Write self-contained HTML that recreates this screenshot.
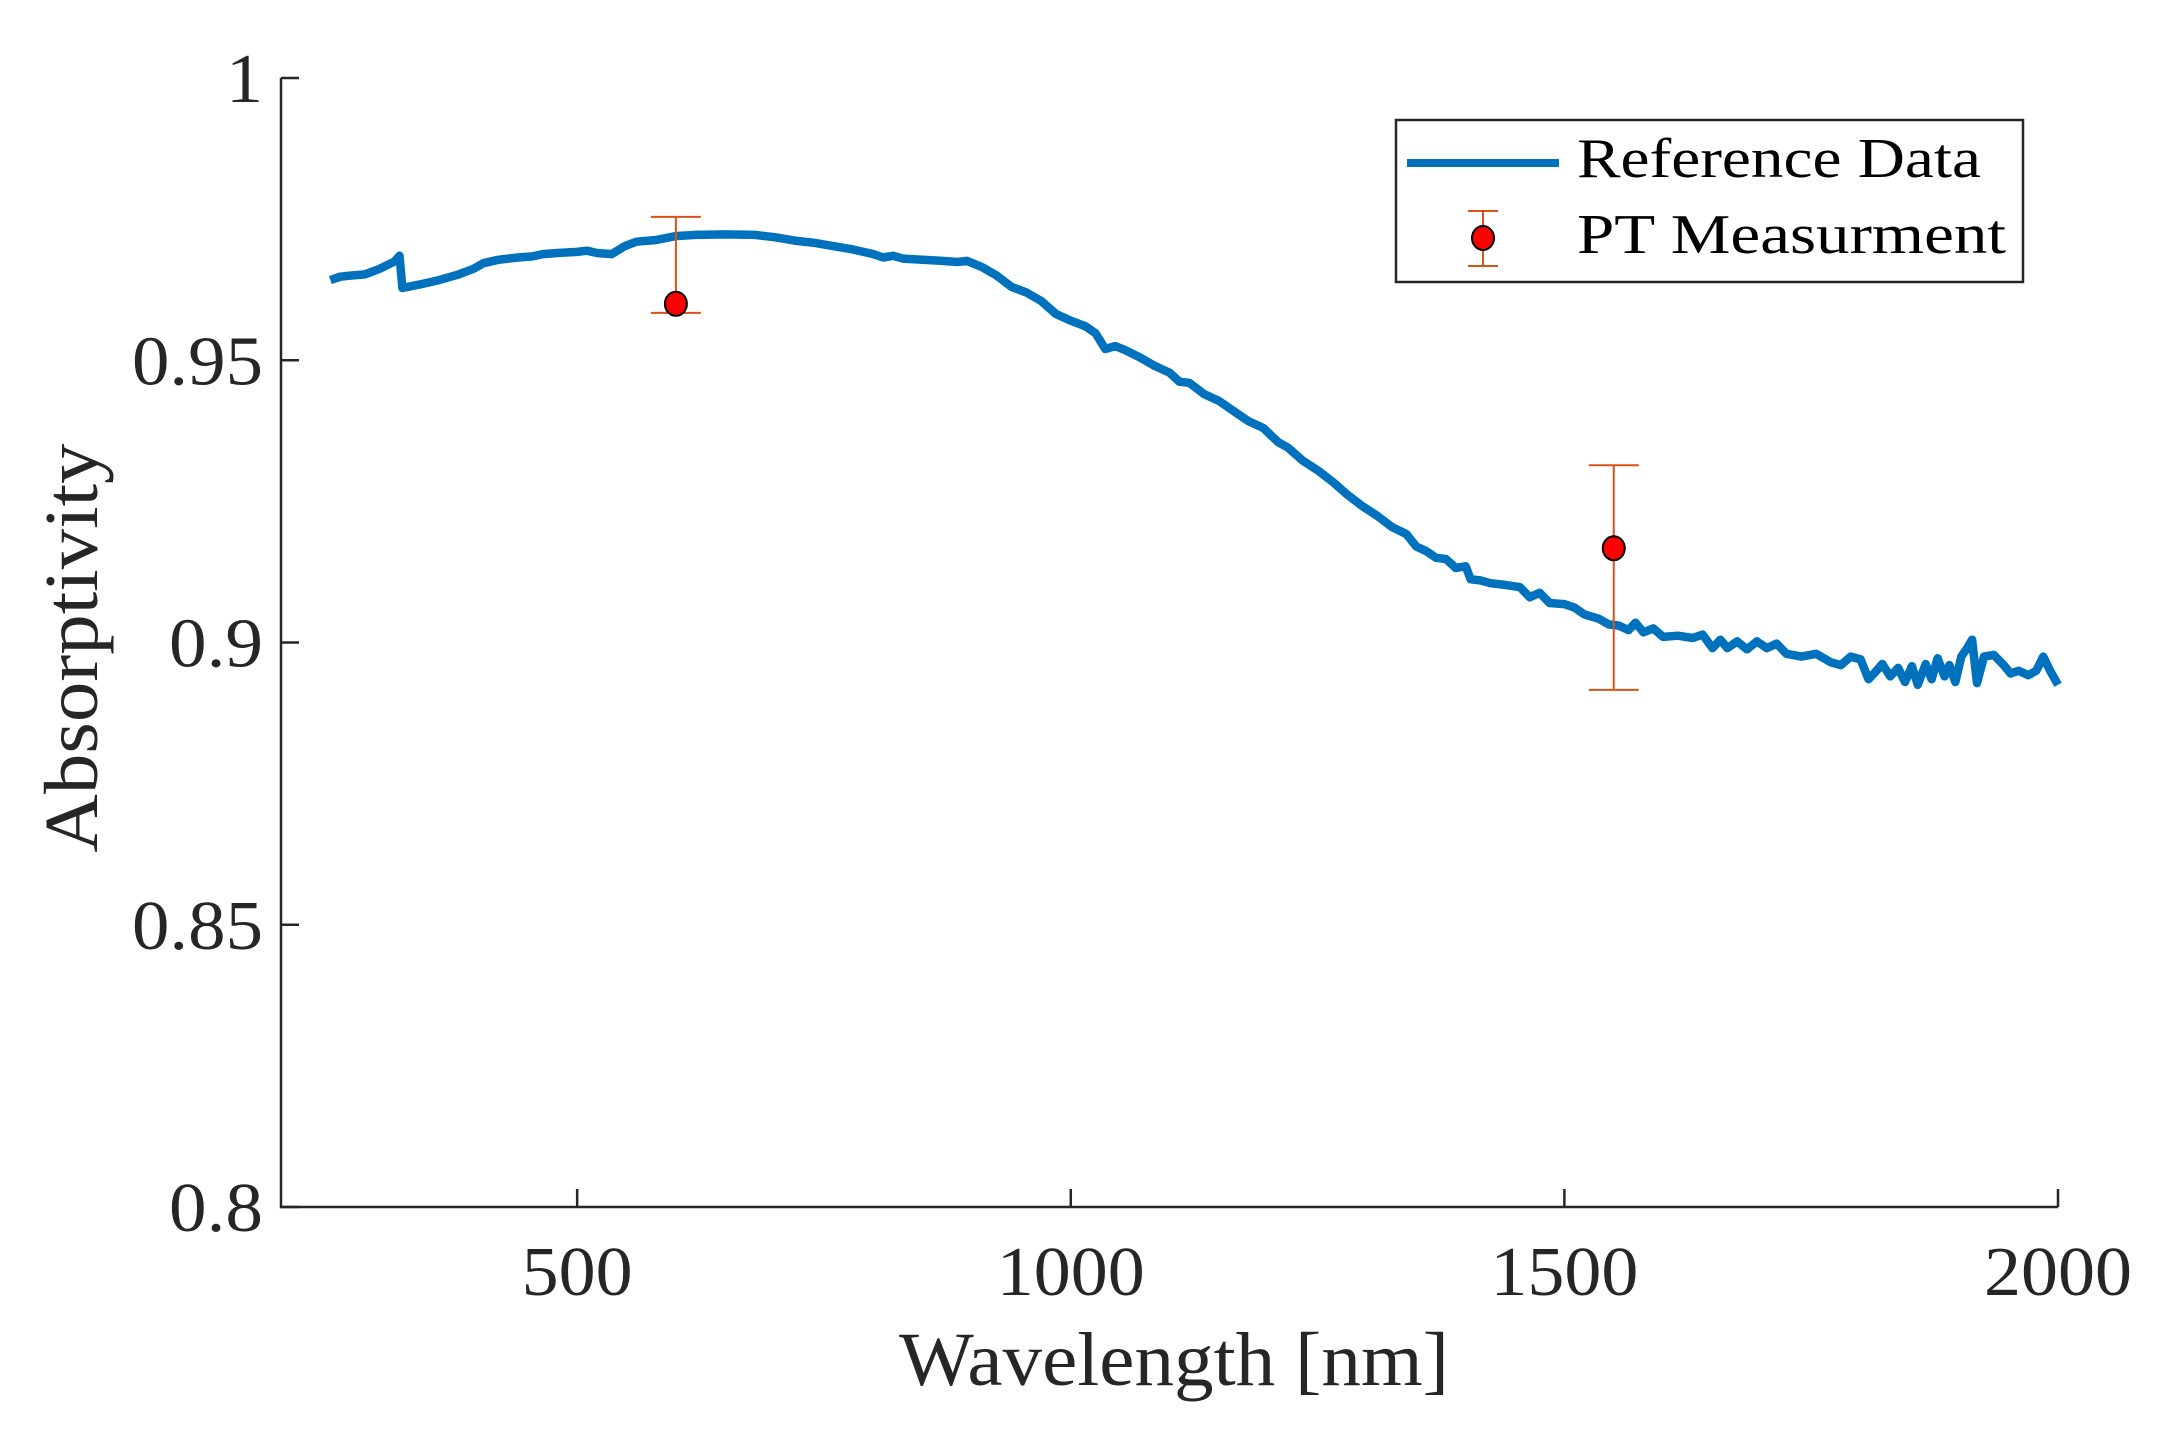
<!DOCTYPE html>
<html><head><meta charset="utf-8"><style>
html,body{margin:0;padding:0;background:#fff;}
svg{display:block;font-family:"Liberation Serif","DejaVu Serif",serif;}
</style></head><body>
<svg id="chart" width="2160" height="1432" viewBox="0 0 2160 1432" xmlns="http://www.w3.org/2000/svg">
<rect width="2160" height="1432" fill="#fff"/>
<g id="axes"></g>
<g id="series"></g>
<g id="legend">
  <rect x="1396" y="120" width="627" height="162" fill="#fff" stroke="#262626" stroke-width="2.5"/>
  <line x1="1407" y1="163" x2="1559" y2="163" stroke="#0072BD" stroke-width="8"/>
  <text x="1577" y="177" font-size="56" fill="#000" textLength="404" lengthAdjust="spacingAndGlyphs">Reference Data</text>
  <g>
    <line x1="1483" y1="211" x2="1483" y2="266" stroke="#D95319" stroke-width="2"/>
    <line x1="1468" y1="211" x2="1498" y2="211" stroke="#D95319" stroke-width="2"/>
    <line x1="1468" y1="266" x2="1498" y2="266" stroke="#D95319" stroke-width="2"/>
    <ellipse cx="1483" cy="238" rx="11" ry="12" fill="#FF0000" stroke="#000" stroke-width="2"/>
  </g>
  <text x="1577" y="253" font-size="56" fill="#000" textLength="429" lengthAdjust="spacingAndGlyphs">PT Measurment</text>
</g>
</svg>
<script>
const xTicks = [500, 1000, 1500, 2000];
const xTickLabels = ["500", "1000", "1500", "2000"];
const yTicks = [0.8, 0.85, 0.9, 0.95, 1];
const yTickLabels = ["0.8", "0.85", "0.9", "0.95", "1"];
const refWavelength = [250,260,270,285,300,315,320,323,340,360,380,395,405,420,440,455,465,480,500,510,520,535,548,560,580,600,620,650,680,700,720,740,760,780,800,810,820,830,850,870,885,895,910,925,940,955,970,985,1000,1015,1025,1035,1045,1055,1070,1085,1100,1110,1120,1135,1150,1165,1180,1195,1210,1220,1235,1250,1265,1280,1295,1310,1325,1340,1350,1360,1370,1380,1390,1400,1405,1415,1425,1440,1455,1465,1475,1485,1500,1510,1520,1535,1545,1555,1565,1572,1580,1590,1600,1615,1630,1640,1650,1658,1665,1675,1685,1695,1705,1715,1725,1740,1755,1770,1780,1790,1800,1808,1815,1822,1830,1838,1845,1852,1858,1866,1872,1878,1885,1890,1896,1902,1908,1913,1918,1925,1935,1945,1952,1960,1970,1978,1985,1992,2000];
const refAbsorptivity = [.9642,.9648,.9650,.9652,.9662,.9675,.9685,.9628,.9634,.9642,.9652,.9662,.9672,.9678,.9682,.9684,.9688,.9690,.9692,.9694,.9690,.9688,.9702,.9710,.9713,.9720,.9722,.9723,.9722,.9718,.9712,.9708,.9702,.9696,.9688,.9682,.9685,.9680,.9678,.9676,.9674,.9676,.9665,.9650,.9630,.9620,.9605,.9582,.9570,.9560,.9548,.9520,.9525,.9518,.9505,.9490,.9478,.9462,.9460,.9440,.9428,.9410,.9392,.9380,.9355,.9345,.9322,.9305,.9285,.9262,.9242,.9225,.9205,.9192,.9170,.9162,.9150,.9148,.9132,.9135,.9112,.9110,.9105,.9102,.9098,.9080,.9088,.9070,.9068,.9062,.9050,.9042,.9032,.9030,.9022,.9035,.9018,.9025,.9010,.9012,.9008,.9014,.8990,.9005,.8990,.9002,.8988,.9002,.8990,.8998,.8980,.8975,.8980,.8965,.8960,.8975,.8970,.8935,.8948,.8962,.8940,.8955,.8930,.8958,.8925,.8962,.8935,.8972,.8940,.8960,.8930,.8975,.8990,.9005,.8928,.8975,.8978,.8960,.8945,.8950,.8942,.8950,.8975,.8950,.8925];
const ptWavelength = [600, 1550];
const ptValue = [0.960, 0.9167];
const ptUpper = [0.9754, 0.9314];
const ptLower = [0.9584, 0.8916];

const NS = "http://www.w3.org/2000/svg";
const X0 = 281, X1 = 2058, Y0 = 1207, Y1 = 78;
const xmin = 200, xmax = 2000, ymin = 0.8, ymax = 1.0;
const sx = v => X0 + (v - xmin) / (xmax - xmin) * (X1 - X0);
const sy = v => Y0 - (v - ymin) / (ymax - ymin) * (Y0 - Y1);
function mk(tag, attrs, parent){ const e=document.createElementNS(NS,tag); for(const k in attrs) e.setAttribute(k,attrs[k]); parent.appendChild(e); return e; }
const digitW = 37;

const axes = document.getElementById('axes');
const ax = mk('path',{d:`M${X0},${Y1} L${X0},${Y0} L${X1},${Y0}`,fill:'none',stroke:'#262626','stroke-width':2.5},axes);


xTicks.forEach((t,i)=>{
  const x=sx(t);
  const tk=mk('line',{x1:x,y1:Y0,x2:x,y2:Y0-18,stroke:'#262626','stroke-width':2.5},axes);
  
  
  const L=xTickLabels[i].length*digitW;
  const tx=mk('text',{x:x,y:1295,'font-size':70,'text-anchor':'middle',fill:'#262626',textLength:L,lengthAdjust:'spacingAndGlyphs'},axes);
  tx.textContent=xTickLabels[i];
  
  
});
yTicks.forEach((t,i)=>{
  const y=sy(t);
  const tk=mk('line',{x1:X0,y1:y,x2:X0+18,y2:y,stroke:'#262626','stroke-width':2.5},axes);
  
  
  const s=yTickLabels[i];
  const L=s.replace('.','').length*digitW + (s.includes('.')?20:0);
  const tx=mk('text',{x:263,y:y+24,'font-size':70,'text-anchor':'end',fill:'#262626',textLength:L,lengthAdjust:'spacingAndGlyphs'},axes);
  tx.textContent=s;
  
  
});
const xl=mk('text',{x:1174,y:1385,'font-size':76,'text-anchor':'middle',fill:'#262626',textLength:550,lengthAdjust:'spacingAndGlyphs'},axes);
xl.textContent='Wavelength [nm]';


const yl=mk('text',{x:0,y:0,'font-size':76,'text-anchor':'middle',fill:'#262626',textLength:409,lengthAdjust:'spacingAndGlyphs',transform:'translate(97,648) rotate(-90)'},axes);
yl.textContent='Absorptivity';



const series = document.getElementById('series');
const d = refWavelength.map((w,i)=>(i?'L':'M')+sx(w).toFixed(1)+','+sy(refAbsorptivity[i]).toFixed(1)).join(' ');
const line = mk('path',{d:d,fill:'none',stroke:'#0072BD','stroke-width':8.5,'stroke-linejoin':'round'},series);


ptWavelength.forEach((w,i)=>{
  const g=mk('g',{},series);
  
  
  const x=sx(w), yu=sy(ptUpper[i]), yd=sy(ptLower[i]);
  mk('line',{x1:x,y1:yu,x2:x,y2:yd,stroke:'#D95319','stroke-width':2},g);
  mk('line',{x1:x-25,y1:yu,x2:x+25,y2:yu,stroke:'#D95319','stroke-width':2},g);
  mk('line',{x1:x-25,y1:yd,x2:x+25,y2:yd,stroke:'#D95319','stroke-width':2},g);
  mk('ellipse',{cx:x,cy:sy(ptValue[i]),rx:11,ry:12,fill:'#FF0000',stroke:'#000','stroke-width':2},g);
});
</script>
</body></html>
